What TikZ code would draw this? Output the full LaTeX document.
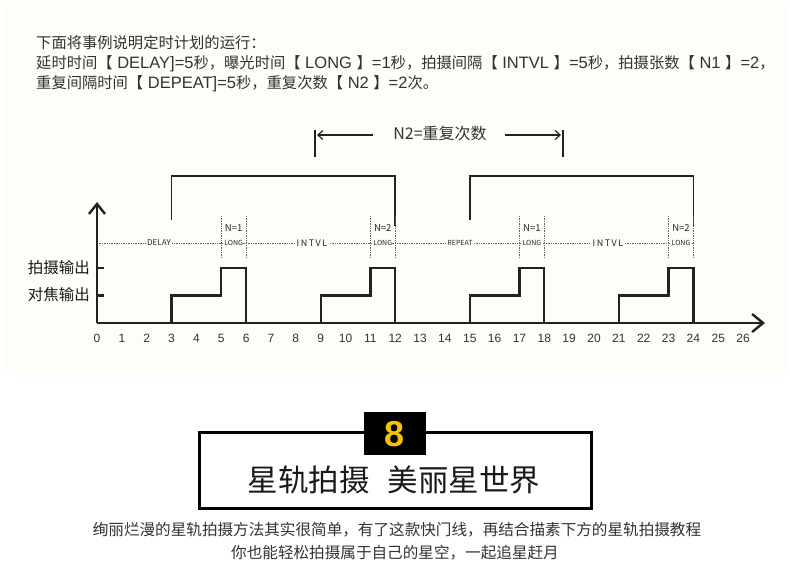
\documentclass[tikz,border=0pt]{standalone}
\usepackage{fontspec}
\setmainfont{Noto Sans CJK SC}
\newfontfamily\arialf{Liberation Sans}
\usetikzlibrary{arrows.meta}
\definecolor{bgc}{HTML}{FEFDF8}
\definecolor{ink}{HTML}{333333}
\definecolor{gold}{HTML}{F5C400}
\definecolor{lineink}{HTML}{222222}
\newcommand\latn[1]{{\arialf\fontsize{16.5}{18}\selectfont #1}}
\begin{document}
\begin{tikzpicture}[x=1pt,y=-1pt,
  toptext/.style={anchor=west,inner sep=0pt,text=ink,font=\fontsize{15.3}{18}\selectfont},
  wave/.style={draw=lineink,line width=2.3pt,line join=miter},
  bracket/.style={draw=lineink,line width=1.8pt,line join=miter},
  axisline/.style={draw=lineink,line width=2.6pt},
  dotline/.style={draw=black!60,line width=0.8pt,dash pattern=on 1.3pt off 1.1pt},
  seglabel/.style={fill=bgc,inner sep=1.5pt,text=black!85,font=\fontsize{8}{9}\selectfont},
  nlabel/.style={inner sep=0pt,text=black!85,font=\fontsize{9.5}{10}\selectfont},
  longlabel/.style={fill=bgc,inner sep=0.3pt,text=black!85,font=\fontsize{7}{8}\selectfont},
  ticklabel/.style={text=ink,font=\arialf\fontsize{12}{14}\selectfont},
  ylab/.style={anchor=east,inner sep=0pt,text=black!90,font=\fontsize{15.5}{17}\selectfont},
  n2arrow/.style={draw=lineink,line width=1.2pt,-{Straight Barb[length=5pt,width=9pt]}},
  caption/.style={text=ink,inner sep=0pt,font=\fontsize{15.6}{18}\selectfont}
]
\useasboundingbox (0,0) rectangle (790,573);
\fill[white] (0,0) rectangle (790,573);
\fill[bgc] (3,3) rectangle (787,373);

% top description
\node[toptext] (l1) at (36,43) {下面将事例说明定时计划的运行：};
\node[toptext] (l2) at (36,64) {延时时间【\latn{ DELAY]=5}秒，曝光时间【\latn{ LONG }】\latn{=1}秒，拍摄间隔【\latn{ INTVL }】\latn{=5}秒，拍摄张数【\latn{ N1 }】\latn{=2}，};
\node[toptext] (l3) at (36,84) {重复间隔时间【\latn{ DEPEAT]=5}秒，重复次数【\latn{ N2 }】\latn{=2}次。};

% N2 indicator
\node[inner sep=0pt,text=ink,font=\fontsize{16}{18}\selectfont] (n2) at (440,133) {N2=重复次数};
\coordinate (lbt) at (315,130); \coordinate (lbb) at (315,157);
\coordinate (rbt) at (563,130); \coordinate (rbb) at (563,157);
\coordinate (la0) at (373,135); \coordinate (la1) at (317,135);
\coordinate (ra0) at (505,135); \coordinate (ra1) at (561,135);
\draw[draw=lineink,line width=1.3pt] (lbt) -- (lbb);
\draw[draw=lineink,line width=1.3pt] (rbt) -- (rbb);
\draw[n2arrow] (la0) -- (la1);
\draw[n2arrow] (ra0) -- (ra1);

% brackets
\draw[bracket] ({97+24.85*3},220) -- ({97+24.85*3},176) -- ({97+24.85*12},176) -- ({97+24.85*12},226);
\draw[bracket] ({97+24.85*15},220) -- ({97+24.85*15},176) -- ({97+24.85*24},176) -- ({97+24.85*24},226);

% dotted timeline
\draw[dotline] (97,243) -- ({97+24.85*24},243);
\foreach \t in {5,6,11,12,17,18,23,24}{
  \draw[dotline] ({97+24.85*\t},216) -- ({97+24.85*\t},258);
}
\node[seglabel] (dly) at (159,243) {DELAY};
\node[seglabel,font=\fontsize{9}{10}\selectfont] (iv1) at (312,243) {I\,N\,T\,V\,L};
\node[seglabel,font=\fontsize{7}{8}\selectfont] (rep) at (460,243) {REPEAT};
\node[seglabel,font=\fontsize{9}{10}\selectfont] (iv2) at (608,243) {I\,N\,T\,V\,L};
\foreach \t/\n in {5/1,11/2,17/1,23/2}{
  \node[nlabel] (nn\t) at ({97+24.85*(\t+0.5)},228) {N=\n};
  \node[longlabel] (lg\t) at ({97+24.85*(\t+0.5)},243) {LONG};
}

% axes
\coordinate (org) at (97,323);
\coordinate (xend) at (765,323);
\coordinate (yend) at (97,202);
\draw[axisline,-{Straight Barb[length=11pt,width=18pt,line width=2.4pt]}] (org) -- (xend);
\draw[axisline,-{Straight Barb[length=10pt,width=16pt,line width=2.4pt]}] (org) -- (yend);
\draw[axisline] (97,268) -- (104,268);
\draw[axisline] (97,295.5) -- (104,295.5);
\node[ylab] (ys) at (90,268) {拍摄输出};
\node[ylab] (yf) at (90,295) {对焦输出};
\foreach \t in {0,...,26}{
  \node[ticklabel] (tk\t) at ({97+24.85*\t},338) {\t};
}

% waveform pulses
\foreach \k in {3,9,15,21}{
  \draw[wave] ({97+24.85*\k},323) -- ({97+24.85*\k},295.5) -- ({97+24.85*(\k+2)},295.5)
     -- ({97+24.85*(\k+2)},268) -- ({97+24.85*(\k+3)},268) -- ({97+24.85*(\k+3)},323);
}

% bottom title box
\draw[line width=3pt,draw=black] (199,432) rectangle (591,508);
\fill[black] (364,412) rectangle (426,455);
\node[text=gold,inner sep=0pt,font=\arialf\bfseries\fontsize{36}{40}\selectfont] (eight) at (395,434) {8};
\node[text=black!90,inner sep=0pt,font=\fontsize{30.5}{34}\selectfont] (title) at (394,480) {星轨拍摄\hspace{0.6em}美丽星世界};

% caption
\node[caption] (c1) at (397,530) {绚丽烂漫的星轨拍摄方法其实很简单，有了这款快门线，再结合描素下方的星轨拍摄教程};
\node[caption] (c2) at (395,553) {你也能轻松拍摄属于自己的星空，一起追星赶月};
\end{tikzpicture}
\end{document}
